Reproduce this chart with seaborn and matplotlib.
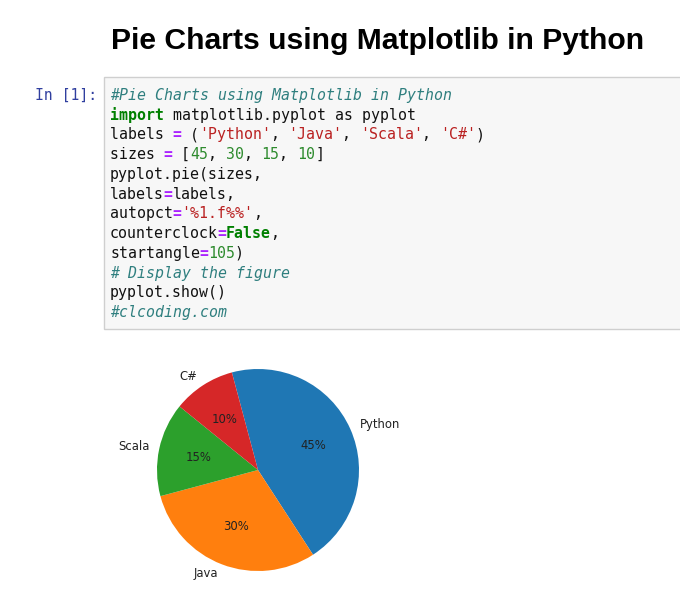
import matplotlib
matplotlib.use("Agg")
import matplotlib.pyplot as plt
from matplotlib.patches import Rectangle
from matplotlib.transforms import Affine2D
import seaborn as sns

labels = ['Python', 'Java', 'Scala', 'C#']
sizes = [45, 30, 15, 10]
title = 'Pie Charts using Matplotlib in Python'
prompt = 'In [1]:'

COM = '#2f7f7f'; KW = '#008000'; OP = '#aa22ff'; STR = '#ba2121'; NUM = '#2e8b2e'; TX = '#111111'
code_lines = [
    [('#Pie Charts using Matplotlib in Python', COM, 'italic', 'normal')],
    [('import', KW, 'normal', 'bold'), (' matplotlib.pyplot as pyplot', TX, 'normal', 'normal')],
    [('labels ', TX, 'normal', 'normal'), ('=', OP, 'normal', 'bold'), (' (', TX, 'normal', 'normal'),
     ("'Python'", STR, 'normal', 'normal'), (', ', TX, 'normal', 'normal'), ("'Java'", STR, 'normal', 'normal'),
     (', ', TX, 'normal', 'normal'), ("'Scala'", STR, 'normal', 'normal'), (', ', TX, 'normal', 'normal'),
     ("'C#'", STR, 'normal', 'normal'), (')', TX, 'normal', 'normal')],
    [('sizes ', TX, 'normal', 'normal'), ('=', OP, 'normal', 'bold'), (' [', TX, 'normal', 'normal'),
     ('45', NUM, 'normal', 'normal'), (', ', TX, 'normal', 'normal'), ('30', NUM, 'normal', 'normal'),
     (', ', TX, 'normal', 'normal'), ('15', NUM, 'normal', 'normal'), (', ', TX, 'normal', 'normal'),
     ('10', NUM, 'normal', 'normal'), (']', TX, 'normal', 'normal')],
    [('pyplot.pie(sizes,', TX, 'normal', 'normal')],
    [('labels', TX, 'normal', 'normal'), ('=', OP, 'normal', 'bold'), ('labels,', TX, 'normal', 'normal')],
    [('autopct', TX, 'normal', 'normal'), ('=', OP, 'normal', 'bold'), ("'%1.f%%'", STR, 'normal', 'normal'),
     (',', TX, 'normal', 'normal')],
    [('counterclock', TX, 'normal', 'normal'), ('=', OP, 'normal', 'bold'), ('False', KW, 'normal', 'bold'),
     (',', TX, 'normal', 'normal')],
    [('startangle', TX, 'normal', 'normal'), ('=', OP, 'normal', 'bold'), ('105', NUM, 'normal', 'normal'),
     (')', TX, 'normal', 'normal')],
    [('# Display the figure', COM, 'italic', 'normal')],
    [('pyplot.show()', TX, 'normal', 'normal')],
    [('#clcoding.com', COM, 'italic', 'normal')],
]

sns.set_style('white')
colors = sns.color_palette('tab10', 4)

W, H = 680, 593
fig = plt.figure(figsize=(W / 100, H / 100), dpi=100, facecolor='white')
# pixel transform with y running downward, like the reference's coordinates
px = Affine2D().scale(1, -1).translate(0, H)

fig.text(378, 41, title, transform=px, ha='center', va='center', fontsize=21.7,
         fontweight='bold', family='Liberation Sans', color='black')
fig.text(97, 100, prompt, transform=px, ha='right', va='baseline', fontsize=10.6,
         family='DejaVu Sans Mono', color='#303f9f')

fig.add_artist(Rectangle((104, 77), 600, 252, transform=px, facecolor='#f7f7f7',
                         edgecolor='#cfcfcf', linewidth=1.0))

cw = 8.92
for i, tokens in enumerate(code_lines):
    x = 110.0
    y = 100 + i * 19.73
    for txt, col, style, weight in tokens:
        fig.text(x, y, txt, transform=px, ha='left', va='baseline', fontsize=10.68,
                 family='DejaVu Sans Mono', color=col, fontstyle=style, fontweight=weight)
        x += len(txt) * cw

# pie: centre (258, 470), radius 101 px, default limits of +/-1.25
half = 101 * 1.25
ax = fig.add_axes([(258 - half) / W, 1 - (470 + half) / H, 2 * half / W, 2 * half / H])
wedges, texts, autotexts = ax.pie(sizes, labels=labels, autopct='%1.f%%', counterclock=False,
                                  startangle=105, colors=colors,
                                  wedgeprops={'linewidth': 0},
                                  textprops={'fontsize': 8.4, 'color': '#222222'})
fig.savefig('out.png', dpi=100)
